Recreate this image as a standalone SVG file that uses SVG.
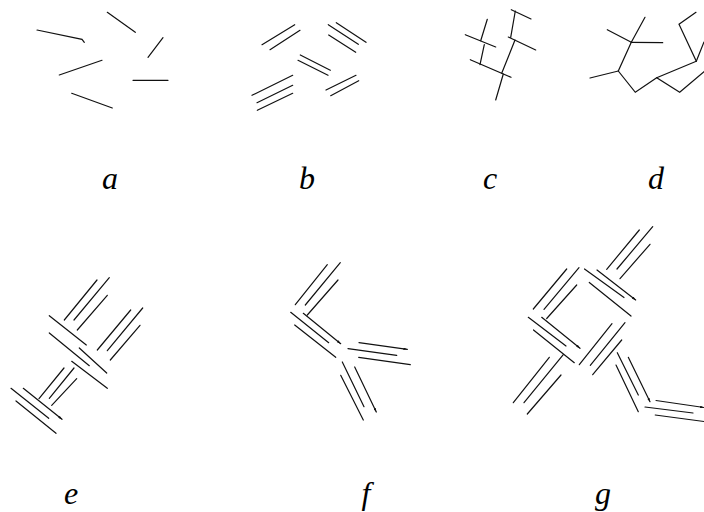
<svg xmlns="http://www.w3.org/2000/svg" width="704" height="512" viewBox="0 0 704 512">
<defs>
<style>
line, polyline { stroke: #111; stroke-width: 1.2; fill: none; stroke-linecap: round; }
.lbl { font-family: "Liberation Serif", "Times New Roman", serif; font-style: italic; font-size: 32px; fill: #000; text-anchor: middle; }
.ar { marker-end: url(#ah); }
</style>
<marker id="ah" viewBox="0 0 6 4" refX="6" refY="2" markerWidth="4" markerHeight="2.6" markerUnits="userSpaceOnUse" orient="auto">
<path d="M0,0 L6,2 L0,4 Z" fill="#111"/>
</marker>
</defs>
<rect width="704" height="512" fill="#fff"/>

<g id="panel-a">
<polyline points="37,30 82,39.3 84.3,42.3"/>
<line x1="107.3" y1="12.3" x2="135.3" y2="32.3"/>
<line x1="163" y1="37.7" x2="148" y2="57.3"/>
<line x1="59.3" y1="75" x2="102" y2="60.3"/>
<line x1="133" y1="80.3" x2="168" y2="80.3"/>
<line x1="71.7" y1="93.3" x2="112.3" y2="108"/>
</g>

<g id="panel-b">
<line x1="262" y1="44.7" x2="294.7" y2="24.7"/>
<line x1="270" y1="49.7" x2="300" y2="30.3"/>
<line x1="328.3" y1="24.7" x2="358.3" y2="44.3"/>
<line x1="336.3" y1="22.7" x2="366" y2="42.3"/>
<line x1="328.7" y1="35" x2="355.7" y2="52.3"/>
<line x1="300.3" y1="55" x2="330.3" y2="70.3"/>
<line x1="298" y1="60.3" x2="328" y2="75.3"/>
<line x1="252" y1="95.3" x2="292.7" y2="75.3"/>
<line x1="257" y1="102.7" x2="292.7" y2="85.3"/>
<line x1="257.3" y1="110.3" x2="292.7" y2="93.3"/>
<line x1="326" y1="90" x2="356" y2="75.3"/>
<line x1="330.7" y1="95.7" x2="358.7" y2="80.7"/>
</g>

<g id="panel-c">
<line x1="487.3" y1="19.3" x2="480.7" y2="40.7"/>
<line x1="465.3" y1="34.7" x2="495.7" y2="47"/>
<line x1="484.3" y1="44.7" x2="480" y2="64.7"/>
<line x1="470.3" y1="59.7" x2="511" y2="77.3"/>
<line x1="515.3" y1="11" x2="510.7" y2="37.3"/>
<line x1="511.3" y1="9.7" x2="531" y2="19"/>
<line x1="508.3" y1="37" x2="535.7" y2="50"/>
<line x1="515" y1="40" x2="501.7" y2="73.3"/>
<line x1="503.3" y1="74" x2="495.7" y2="100"/>
</g>

<g id="panel-d">
<line x1="645" y1="17.3" x2="631.3" y2="42.3"/>
<line x1="607.3" y1="29.7" x2="631.3" y2="42.3"/>
<line x1="631.3" y1="42.3" x2="662.7" y2="42.7"/>
<polyline points="631.3,42.3 618.3,71 635.3,92.3 656.7,77.7 679.7,92.3 704,71.7"/>
<line x1="590" y1="78" x2="618.3" y2="71"/>
<polyline points="656.7,77.7 696.3,61.3 679,24.3 696,12.3"/>
<line x1="696.3" y1="61.3" x2="704" y2="42"/>
</g>

<g id="panel-e">
<line x1="97" y1="280" x2="64.3" y2="320"/>
<line x1="109.3" y1="277.7" x2="74" y2="320"/>
<line x1="107.3" y1="295.3" x2="77.3" y2="330"/>
<line x1="49.3" y1="315.7" x2="86.3" y2="345"/>
<line x1="49.3" y1="333" x2="89.3" y2="365.7"/>
<line x1="79.3" y1="348" x2="106.7" y2="373"/>
<line x1="71.7" y1="361.3" x2="107.3" y2="388.3"/>
<line x1="130.7" y1="310" x2="97.3" y2="350"/>
<line x1="142.7" y1="308" x2="107.3" y2="350.7"/>
<line x1="140" y1="325.3" x2="110.3" y2="360"/>
<line x1="64" y1="368" x2="39" y2="398.7"/>
<line x1="74" y1="368" x2="49.3" y2="398.3"/>
<line x1="76.7" y1="378.7" x2="51.7" y2="405.3"/>
<line x1="11" y1="388.3" x2="48.7" y2="418.3"/>
<line class="ar" x1="23.3" y1="388.3" x2="62" y2="419.3"/>
<line x1="16" y1="401" x2="56" y2="433.3"/>
</g>

<g id="panel-f">
<line x1="327.3" y1="264.7" x2="295.3" y2="304.7"/>
<line x1="340.3" y1="262.7" x2="305.3" y2="305"/>
<line x1="338" y1="280" x2="307.3" y2="315"/>
<line x1="290.7" y1="312.3" x2="328.7" y2="342.7"/>
<line class="ar" x1="303.3" y1="313.3" x2="340.7" y2="343.7"/>
<line x1="294.7" y1="325" x2="335.7" y2="357.3"/>
<line class="ar" x1="359" y1="342.7" x2="407.3" y2="349.3"/>
<line x1="348" y1="348.7" x2="396.7" y2="355.3"/>
<line x1="358.7" y1="357.3" x2="410.3" y2="364.7"/>
<line x1="342.3" y1="362" x2="364" y2="406.7"/>
<line class="ar" x1="354.7" y1="367" x2="376.3" y2="412"/>
<line x1="340.7" y1="375.3" x2="363.3" y2="420"/>
</g>

<g id="panel-g">
<line x1="639.3" y1="230" x2="606.7" y2="269.3"/>
<line x1="652.7" y1="226.7" x2="617" y2="269"/>
<line x1="650" y1="244.3" x2="620" y2="278.7"/>
<line x1="566.7" y1="269" x2="533.3" y2="309"/>
<line x1="579" y1="267.7" x2="544" y2="309.3"/>
<line x1="576.7" y1="285" x2="546.7" y2="318.5"/>
<line x1="584.5" y1="269" x2="624" y2="297.5"/>
<line class="ar" x1="597" y1="270" x2="635.7" y2="300"/>
<line x1="589.3" y1="282.5" x2="631" y2="316"/>
<line x1="528.3" y1="317.3" x2="566" y2="346"/>
<line class="ar" x1="541.7" y1="317.3" x2="580" y2="348.3"/>
<line x1="533.5" y1="330" x2="574.3" y2="362.7"/>
<line x1="612" y1="323.7" x2="579.3" y2="364.7"/>
<line x1="625" y1="322.7" x2="590.3" y2="365.3"/>
<line x1="621.7" y1="340" x2="592.7" y2="374.7"/>
<line x1="549.3" y1="357.3" x2="513.3" y2="402.7"/>
<line x1="563.3" y1="354.7" x2="524" y2="402.7"/>
<line x1="561" y1="375" x2="527.3" y2="414"/>
<line x1="617.3" y1="352.7" x2="638.3" y2="395"/>
<line class="ar" x1="628.3" y1="357.3" x2="650" y2="401.7"/>
<line x1="616" y1="365" x2="638.3" y2="411.7"/>
<line class="ar" x1="656" y1="400.5" x2="704" y2="407.5"/>
<line x1="645" y1="407" x2="693" y2="413"/>
<line x1="655.2" y1="415" x2="704" y2="421.5"/>
</g>

<g id="labels">
<text class="lbl" x="110" y="189">a</text>
<text class="lbl" x="307" y="189">b</text>
<text class="lbl" x="490" y="189">c</text>
<text class="lbl" x="656" y="189">d</text>
<text class="lbl" x="71" y="504">e</text>
<text class="lbl" x="366" y="504">f</text>
<text class="lbl" x="603" y="504">g</text>
</g>
</svg>
